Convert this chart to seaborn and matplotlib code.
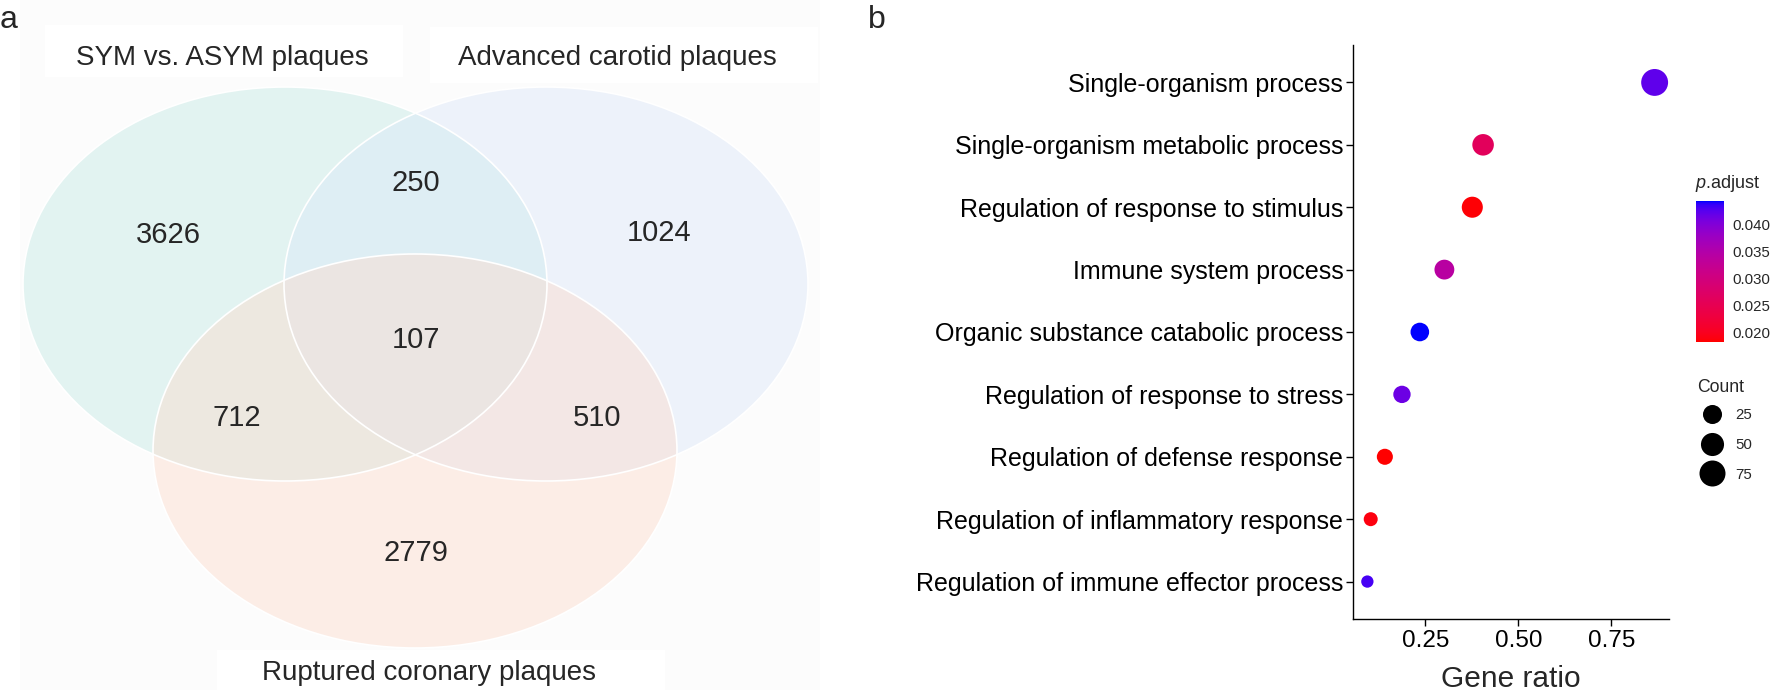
import numpy as np
import pandas as pd
import matplotlib
matplotlib.use('Agg')
import matplotlib.pyplot as plt
import seaborn as sns
from matplotlib.patches import Ellipse, Rectangle
from matplotlib.colors import ListedColormap, Normalize
from matplotlib.cm import ScalarMappable
from matplotlib.lines import Line2D

# ---- panel a: venn counts ----
set_names = ['SYM vs. ASYM plaques', 'Advanced carotid plaques', 'Ruptured coronary plaques']
set_colors = ['#C4EAE4', '#DBE8F8', '#FCDBCD']
region_names = ['A', 'AB', 'B', 'ABC', 'AC', 'BC', 'C']
region_counts = [3626, 250, 1024, 107, 712, 510, 2779]

# ---- panel b: GO enrichment ----
terms = ['Single-organism process',
         'Single-organism metabolic process',
         'Regulation of response to stimulus',
         'Immune system process',
         'Organic substance catabolic process',
         'Regulation of response to stress',
         'Regulation of defense response',
         'Regulation of inflammatory response',
         'Regulation of immune effector process']
gene_ratio = [0.866, 0.405, 0.376, 0.301, 0.235, 0.187, 0.141, 0.103, 0.094]
counts = [84, 39, 36, 29, 23, 18, 14, 10, 9]
p_adjust = [0.0422, 0.0262, 0.0186, 0.0342, 0.0444, 0.0415, 0.0183, 0.0190, 0.0432]
size_breaks = [25, 50, 75]
padj_ticks = [0.020, 0.025, 0.030, 0.035, 0.040]

W, H = 1770, 693
FONT = 'Liberation Sans'

sns.set_style('white')
plt.rcParams['font.family'] = [FONT, 'DejaVu Sans']
plt.rcParams['mathtext.fontset'] = 'custom'
plt.rcParams['mathtext.it'] = FONT + ':italic'
plt.rcParams['mathtext.rm'] = FONT


def fx(px):
    return px / W


def fy(py):
    return 1 - py / H


# red -> blue gradient interpolated in Lab, like ggplot's default
M = np.array([[0.4124, 0.3576, 0.1805], [0.2126, 0.7152, 0.0722], [0.0193, 0.1192, 0.9505]])
WHITE = np.array([0.95047, 1.0, 1.08883])


def to_lab(rgb):
    c = np.asarray(rgb, float)
    lin = np.where(c <= 0.04045, c / 12.92, ((c + 0.055) / 1.055) ** 2.4)
    xyz = M @ lin / WHITE
    f = np.where(xyz > 0.008856, np.cbrt(xyz), 7.787 * xyz + 16 / 116)
    return np.array([116 * f[1] - 16, 500 * (f[0] - f[1]), 200 * (f[1] - f[2])])


def to_rgb(lab):
    fy_ = (lab[0] + 16) / 116
    f = np.array([fy_ + lab[1] / 500, fy_, fy_ - lab[2] / 200])
    xyz = np.where(f ** 3 > 0.008856, f ** 3, (f - 16 / 116) / 7.787) * WHITE
    lin = np.clip(np.linalg.solve(M, xyz), 0, 1)
    c = np.where(lin <= 0.0031308, 12.92 * lin, 1.055 * lin ** (1 / 2.4) - 0.055)
    return np.clip(c, 0, 1)


lab_lo, lab_hi = to_lab([1, 0, 0]), to_lab([0, 0, 1])
cmap = ListedColormap([to_rgb(lab_lo + t * (lab_hi - lab_lo)) for t in np.linspace(0, 1, 256)])

# ggplot-like area scale -> marker diameter in px
cmin, cmax = min(counts), max(counts)


def diam_px(c):
    return 12.3 + 14.6 * np.sqrt(max(c - cmin, 0) / (cmax - cmin))


def area_pt(c):
    return (diam_px(c) * 0.72) ** 2


fig = plt.figure(figsize=(W / 100, H / 100), dpi=100)

# ================= panel a =================
ax_v = fig.add_axes([0, 0, 880 / W, 1])
ax_v.set_xlim(0, 880)
ax_v.set_ylim(H, 0)
ax_v.axis('off')

ax_v.add_patch(Rectangle((20, 0), 800, 690, facecolor='#FCFCFC', edgecolor='none'))
for (x0, y0, w, h) in [(45, 25, 358, 52), (430, 27, 388, 56), (217, 650, 448, 43)]:
    ax_v.add_patch(Rectangle((x0, y0), w, h, facecolor='white', edgecolor='none'))

centers = [(285, 284), (546, 284), (415, 451)]
for (cx, cy), col in zip(centers, set_colors):
    ax_v.add_patch(Ellipse((cx, cy), 524, 394, facecolor=col, alpha=0.45, edgecolor='none'))
for (cx, cy) in centers:
    ax_v.add_patch(Ellipse((cx, cy), 524, 394, facecolor='none', edgecolor='white', lw=1.2))

title_pos = [(222, 58), (617, 58), (429, 673)]
for name, (tx, ty) in zip(set_names, title_pos):
    ax_v.text(tx, ty, name, ha='center', va='center', fontsize=20)

count_pos = [(168, 235), (416, 183), (659, 233), (416, 340), (237, 418), (597, 418), (416, 553)]
for n, (tx, ty) in zip(region_counts, count_pos):
    ax_v.text(tx, ty, str(n), ha='center', va='center', fontsize=21)

fig.text(fx(0), fy(28), 'a', fontsize=23, ha='left', va='baseline')
fig.text(fx(868), fy(28), 'b', fontsize=23, ha='left', va='baseline')

# ================= panel b =================
df = pd.DataFrame({'term': terms, 'gene_ratio': gene_ratio, 'count': counts, 'padj': p_adjust})
pmin, pmax = min(p_adjust), max(p_adjust)

ax = fig.add_axes([fx(1353), fy(619), (1669 - 1353) / W, (619 - 45) / H])
sns.scatterplot(data=df, x='gene_ratio', y='term', hue='padj', palette=cmap,
                hue_norm=(pmin, pmax), size='count',
                sizes={c: area_pt(c) for c in counts},
                linewidth=0, legend=False, ax=ax, zorder=3)

lo, hi = min(gene_ratio), max(gene_ratio)
pad = 0.05 * (hi - lo)
ax.set_xlim(lo - pad, hi + pad)
ax.set_ylim(len(terms) - 0.4, -0.6)
ax.set_xticks([0.25, 0.50, 0.75])
ax.set_xticklabels(['0.25', '0.50', '0.75'])
ax.set_ylabel('')
ax.set_xlabel('Gene ratio', fontsize=21.5, labelpad=9)
for s in ['top', 'right']:
    ax.spines[s].set_visible(False)
for s in ['left', 'bottom']:
    ax.spines[s].set_color('black')
    ax.spines[s].set_linewidth(1.0)
ax.tick_params(axis='x', labelsize=17.5, length=5, width=1, color='black', pad=3,
               bottom=True, labelcolor='black')
ax.tick_params(axis='y', labelsize=18, length=5, width=1, color='black', pad=2,
               left=True, labelcolor='black')
ax.grid(False)

# colour bar
cax = fig.add_axes([fx(1696), fy(342), 28 / W, (342 - 201) / H])
sm = ScalarMappable(norm=Normalize(pmin, pmax), cmap=cmap)
cb = fig.colorbar(sm, cax=cax, ticks=padj_ticks)
cb.outline.set_visible(False)
cb.ax.set_yticklabels([f'{t:.3f}' for t in padj_ticks])
cax.tick_params(direction='in', color='white', length=5, width=1, left=True, right=True,
                labelleft=False, labelright=True, labelsize=10.8, pad=6)
fig.text(fx(1695), fy(184), r'$\mathit{p}$.adjust', fontsize=13, ha='left', va='center')

# size legend
fig.text(fx(1697), fy(387), 'Count', fontsize=12.7, ha='left', va='center')
handles = [Line2D([], [], marker='o', ls='', color='black', markeredgewidth=0,
                  markersize=diam_px(b) * 0.72) for b in size_breaks]
leg = fig.legend(handles, [str(b) for b in size_breaks], loc='upper left',
                 bbox_to_anchor=(fx(1701), fy(408)), frameon=False, fontsize=10.8,
                 handlelength=1.4, handletextpad=0.9, labelspacing=1.05,
                 borderpad=0, borderaxespad=0)

fig.savefig('out.png', dpi=100)
